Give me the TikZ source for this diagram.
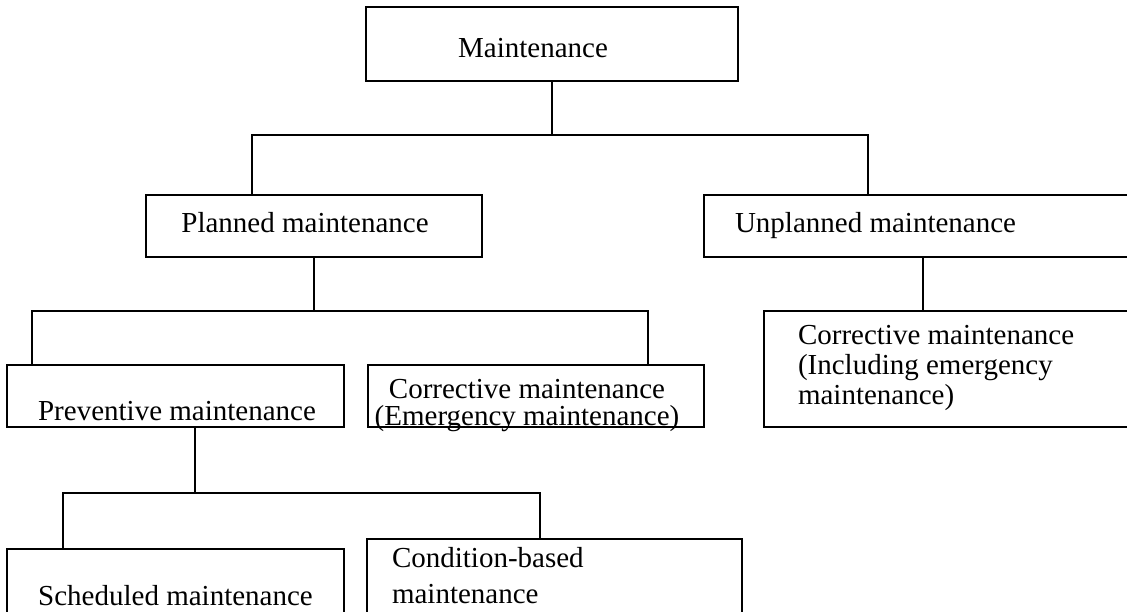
\documentclass[tikz,border=0pt]{standalone}
\usepackage{fontspec}
\setmainfont{Liberation Serif}
\begin{document}
\begin{tikzpicture}[x=1pt,y=-1pt,
  box/.style={draw=black,line width=2pt,inner sep=0pt,outer sep=0pt,rectangle},
  txt/.style={inner sep=0pt,outer sep=0pt,font=\fontsize{29}{29}\selectfont},
  conn/.style={draw=black,line width=2pt}]
\path[use as bounding box] (0,0) rectangle (1127,611);
\clip (0,0) rectangle (1127,611);
% boxes
\node[box,minimum width=372pt,minimum height=74pt] (main) at (552,44) {};
\node[box,minimum width=336pt,minimum height=62pt] (planned) at (314,226) {};
\node[box,minimum width=436pt,minimum height=62pt] (unplanned) at (922,226) {};
\node[box,minimum width=337pt,minimum height=62pt] (prev) at (175.5,396) {};
\node[box,minimum width=336pt,minimum height=62pt] (corr1) at (536,396) {};
\node[box,minimum width=376pt,minimum height=116pt] (corr2) at (952,369) {};
\node[box,minimum width=337pt,minimum height=81pt] (sched) at (175.5,589.5) {};
\node[box,minimum width=375pt,minimum height=91pt] (cond) at (554.5,584.5) {};
% texts
\node[txt,anchor=base] (tmain) at (533,57) {Maintenance};
\node[txt,anchor=base] (tplanned) at (305,232) {Planned maintenance};
\node[txt,anchor=base west] (tunplanned) at (735,232) {Unplanned maintenance};
\node[txt,anchor=base] (tprev) at (177,420) {Preventive maintenance};
\node[txt,anchor=base,font=\fontsize{29}{25}\selectfont] (tcorr1) at (527,398)
  {\begin{tabular}[t]{@{}c@{}}Corrective maintenance\\(Emergency maintenance)\end{tabular}};
\node[txt,anchor=base west,font=\fontsize{29}{30}\selectfont] (tcorr2) at (798,344)
  {\begin{tabular}[t]{@{}l@{}}Corrective maintenance\\(Including emergency\\maintenance)\end{tabular}};
\node[txt,anchor=base west,font=\fontsize{29}{36}\selectfont] (tcond) at (392,567)
  {\begin{tabular}[t]{@{}l@{}}Condition-based\\maintenance\end{tabular}};
\node[txt,anchor=base] (tsched) at (175.5,605) {Scheduled maintenance};
% junction coordinates
\coordinate (pl) at (252,135);
\coordinate (ul) at (868,135);
\coordinate (pa) at (32,311);
\coordinate (pb) at (648,311);
\coordinate (uc) at (923,311);
\coordinate (pv) at (195,493);
\coordinate (sa) at (63,493);
\coordinate (sb) at (540,493);
% connectors
\draw[conn] (main.south) -- (main.south |- pl);
\draw[conn] (pl |- planned.north) -- (pl) -- (ul) -- (ul |- unplanned.north);
\draw[conn] (planned.south) -- (planned.south |- pa);
\draw[conn] (pa |- prev.north) -- (pa) -- (pb) -- (pb |- corr1.north);
\draw[conn] (uc |- unplanned.south) -- (uc |- corr2.north);
\draw[conn] (pv |- prev.south) -- (pv);
\draw[conn] (sa |- sched.north) -- (sa) -- (sb) -- (sb |- cond.north);
\end{tikzpicture}
\end{document}
